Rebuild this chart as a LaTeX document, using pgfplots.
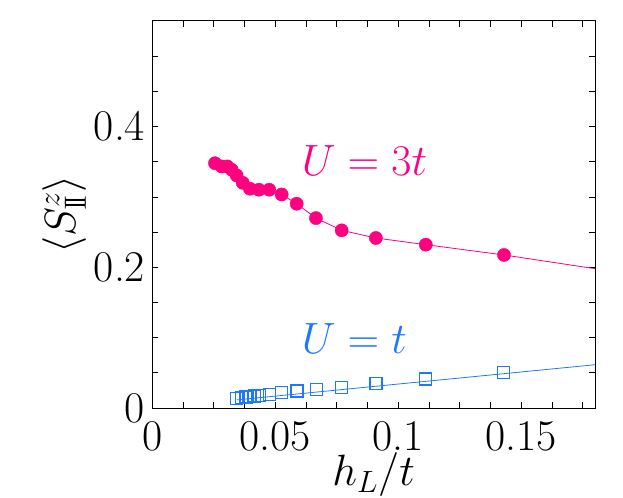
\RequirePackage{fix-cm}
\documentclass[border=0pt]{standalone}
\usepackage{pgfplots}
\pgfplotsset{compat=1.18}
\definecolor{mypink}{RGB}{255,0,128}
\definecolor{myblue}{RGB}{30,120,255}
\begin{document}
\begin{tikzpicture}
\useasboundingbox (-152.3bp,-90bp) rectangle (470.7bp,408bp);
\begin{axis}[
  scale only axis,
  width=442.7bp, height=387bp,
  xmin=0, xmax=0.18, ymin=0, ymax=0.55,
  axis line style={line width=1bp},
  every tick/.style={black, line width=0.8bp},
  tick align=inside,
  major tick length=6bp, minor tick length=6bp,
  xtick={0,0.05,0.1,0.15}, xticklabels={0,0.05,0.1,0.15},
  ytick={0,0.2,0.4}, yticklabels={0,0.2,0.4},
  minor xtick={0.0125,0.025,0.0375,0.0625,0.075,0.0875,0.1125,0.125,0.1375,0.1625,0.175},
  minor ytick={0.05,0.1,0.15,0.25,0.3,0.35,0.45,0.5},
  tick label style={font=\fontsize{44}{52}\selectfont},
  xticklabel style={inner sep=0pt, yshift=-13.5bp},
  yticklabel style={inner sep=0pt, xshift=-7bp},
  xlabel={$h_L/t$},
  ylabel={$\langle S^z_{\mathrm{I\!I}}\rangle$},
  every axis x label/.style={at={(axis description cs:0.5,-0.172)}, anchor=center, font=\fontsize{44}{52}\selectfont},
  every axis y label/.style={at={(axis description cs:-0.199,0.5)}, anchor=center, rotate=90, font=\fontsize{44}{52}\selectfont},
  clip=true,
]
% U = 3t line
\addplot[mypink, line width=0.8bp, no marks] coordinates {
(0.02549,0.3479) (0.02821,0.3433) (0.03049,0.3433) (0.03228,0.3386)
(0.03431,0.3305) (0.03675,0.3201) (0.03972,0.3116) (0.04337,0.3102)
(0.04756,0.3102) (0.0526,0.3035) (0.0587,0.2903) (0.06654,0.2699)
(0.0770,0.2525) (0.0909,0.2416) (0.1112,0.2321) (0.1430,0.2175) (0.18,0.198)
};
\addplot[only marks, mark=*, mark size=6.6bp, mypink, mark options={fill=mypink, draw=mypink}] coordinates {
(0.02549,0.3479) (0.02821,0.3433) (0.03049,0.3433) (0.03228,0.3386)
(0.03431,0.3305) (0.03675,0.3201) (0.03972,0.3116) (0.04337,0.3102)
(0.04756,0.3102) (0.0526,0.3035) (0.0587,0.2903) (0.06654,0.2699)
(0.0770,0.2525) (0.0909,0.2416) (0.1112,0.2321) (0.1430,0.2175)
};
% U = t line
\addplot[myblue, line width=0.8bp, no marks] coordinates {
(0.0343,0.0115) (0.18,0.0615)
};
\addplot[only marks, mark=square, mark size=6bp, draw=myblue, line width=1.3bp, mark options={solid, line width=1.3bp, draw=myblue, fill=none}] coordinates {
(0.0341,0.0138) (0.0363,0.0146) (0.0381,0.0156) (0.0397,0.0163)
(0.0415,0.0170) (0.0435,0.0174) (0.0476,0.0194) (0.0526,0.0217)
(0.0588,0.0241) (0.0667,0.0265) (0.0769,0.0294) (0.0909,0.0345)
(0.1111,0.0411) (0.1429,0.0506)
};
\node[anchor=base west, inner sep=0pt, text=mypink, font=\fontsize{44}{52}\selectfont] at (axis cs:0.0607,0.3305) {$U=3t$};
\node[anchor=base west, inner sep=0pt, text=myblue, font=\fontsize{44}{52}\selectfont] at (axis cs:0.0607,0.078) {$U=t$};
\end{axis}
\end{tikzpicture}
\end{document}
